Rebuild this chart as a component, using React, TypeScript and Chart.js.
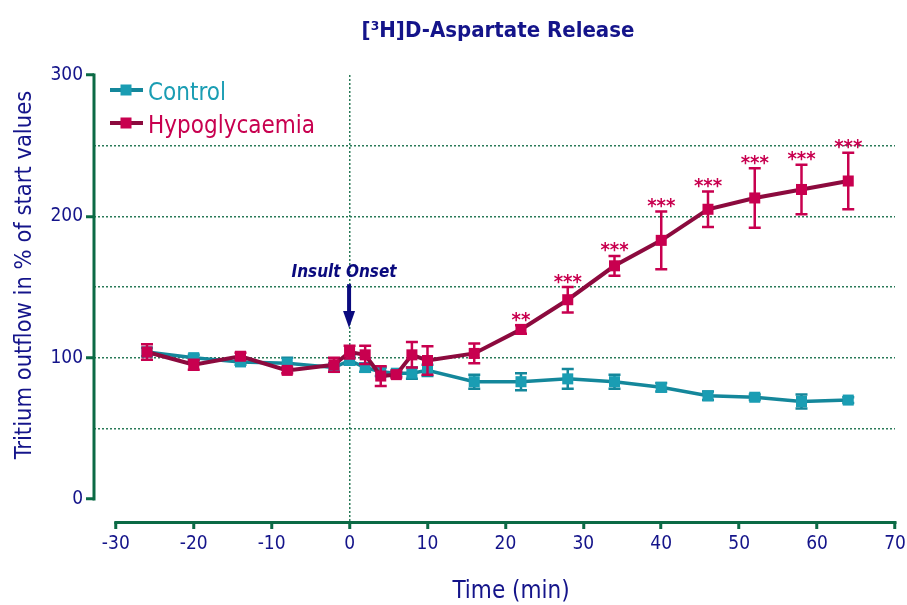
import React, { useEffect, useRef } from 'react';
import { Chart, registerables } from 'chart.js';

Chart.register(...registerables);

// ---------- data ----------
const times = [-26, -20, -14, -8, -2, 0, 2, 4, 6, 8, 10, 16, 22, 28, 34, 40, 46, 52, 58, 64];
const controlMean = [104, 100, 97, 96, 93, 98, 93, 90, 89, 89, 91, 83, 83, 85, 83, 79, 73, 72, 69, 70];
const controlSem = [3, 2, 2, 4, 3, 3, 3, 3, 2, 4, 4, 5, 6, 7, 5, 3, 3, 2, 5, 2];
const hypoMean = [104, 95, 101, 91, 95, 104, 102, 87, 88, 102, 98, 103, 120, 141, 165, 183, 205, 213, 219, 225];
const hypoSem = [5.5, 3.5, 2.5, 2, 5, 4.5, 6.5, 7, 2, 9, 10, 7, 3, 9, 7, 20.5, 12.5, 21, 17.5, 20];
const significance = ['', '', '', '', '', '', '', '', '', '', '', '', '**', '***', '***', '***', '***', '***', '***', '***'];
const seriesNames = ['Control', 'Hypoglycaemia'];
const yTickLabels = [0, 100, 200, 300];
const xRange = [-30, 70];
const titleText = '[³H]D-Aspartate Release';
const xTitleText = 'Time (min)';
const yTitleText = 'Tritium outflow in % of start values';
const annotationText = 'Insult Onset';
const insultTime = 0;
const arrowTailValue = 152;
const arrowHeadBaseValue = 133;
const arrowTipValue = 121;
const annotationLabelValue = 157;

// ---------- styles ----------
const FONT = "'DejaVu Sans Condensed', 'DejaVu Sans', 'Liberation Sans', sans-serif";
const NAVY = '#14148a';
const ARROW = '#0a0a7e';
const AXIS = '#0b6a45';
const GRID = '#2a7a58';
const CTRL_LINE = '#14879b';
const CTRL_MARK = '#1a9db3';
const HYPO_LINE = '#8c0a3e';
const HYPO_MARK = '#c8004f';

const errorBarPlugin = {
  id: 'errorBars',
  beforeDatasetDraw(chart: any, args: any) {
    const ds: any = chart.data.datasets[args.index];
    if (!ds.errors) return;
    const xs = chart.scales.x;
    const ys = chart.scales.y;
    const ctx = chart.ctx;
    ctx.save();
    ctx.strokeStyle = ds.errorColor;
    ctx.lineWidth = 2.5;
    ctx.setLineDash([]);
    ds.data.forEach((p: any, i: number) => {
      const e = ds.errors[i];
      const px = xs.getPixelForValue(p.x);
      const top = ys.getPixelForValue(p.y + e);
      const bot = ys.getPixelForValue(p.y - e);
      const cap = 6;
      ctx.beginPath();
      ctx.moveTo(px, top);
      ctx.lineTo(px, bot);
      ctx.moveTo(px - cap, top);
      ctx.lineTo(px + cap, top);
      ctx.moveTo(px - cap, bot);
      ctx.lineTo(px + cap, bot);
      ctx.stroke();
    });
    ctx.restore();
  },
};

const decorPlugin = {
  id: 'decor',
  afterDraw(chart: any) {
    const ctx = chart.ctx;
    const xs = chart.scales.x;
    const ys = chart.scales.y;
    const area = chart.chartArea;
    ctx.save();
    ctx.setLineDash([]);

    // axis lines (offset, Prism style)
    ctx.strokeStyle = AXIS;
    ctx.lineWidth = 3;
    ctx.lineCap = 'butt';
    ctx.beginPath();
    ctx.moveTo(xs.getPixelForValue(xRange[0]) - 1.5, area.bottom + 0.5);
    ctx.lineTo(xs.getPixelForValue(xRange[1]) + 1.5, area.bottom + 0.5);
    ctx.stroke();
    ctx.beginPath();
    ctx.moveTo(area.left, ys.getPixelForValue(yTickLabels[yTickLabels.length - 1]) - 1.5);
    ctx.lineTo(area.left, ys.getPixelForValue(yTickLabels[0]) + 1.5);
    ctx.stroke();

    // significance stars
    ctx.fillStyle = HYPO_MARK;
    ctx.font = `bold 20px ${FONT}`;
    ctx.textAlign = 'center';
    ctx.textBaseline = 'alphabetic';
    significance.forEach((s, i) => {
      if (!s) return;
      const px = xs.getPixelForValue(times[i]);
      const top = ys.getPixelForValue(hypoMean[i] + hypoSem[i]);
      ctx.fillText(s, px, top + 0.5);
    });

    // Insult onset annotation
    const ax = xs.getPixelForValue(insultTime) - 0.5;
    ctx.fillStyle = ARROW;
    ctx.strokeStyle = ARROW;
    ctx.font = `italic bold 17px ${FONT}`;
    ctx.textAlign = 'center';
    ctx.fillText(annotationText, ax - 5, ys.getPixelForValue(annotationLabelValue));
    ctx.lineWidth = 4;
    ctx.beginPath();
    ctx.moveTo(ax, ys.getPixelForValue(arrowTailValue));
    ctx.lineTo(ax, ys.getPixelForValue(arrowHeadBaseValue) + 1);
    ctx.stroke();
    ctx.beginPath();
    const hb = ys.getPixelForValue(arrowHeadBaseValue);
    ctx.moveTo(ax - 6, hb);
    ctx.lineTo(ax + 6, hb);
    ctx.lineTo(ax, ys.getPixelForValue(arrowTipValue));
    ctx.closePath();
    ctx.fill();

    // legend
    const legend = [
      { name: seriesNames[0], line: CTRL_LINE, mark: CTRL_MARK, y: 90, base: 100 },
      { name: seriesNames[1], line: HYPO_LINE, mark: HYPO_MARK, y: 123, base: 132.5 },
    ];
    legend.forEach((l) => {
      ctx.strokeStyle = l.line;
      ctx.lineWidth = 4;
      ctx.beginPath();
      ctx.moveTo(110, l.y);
      ctx.lineTo(143, l.y);
      ctx.stroke();
      ctx.fillStyle = l.mark;
      ctx.fillRect(126 - 5.5, l.y - 5.5, 11, 11);
      ctx.font = `24px ${FONT}`;
      ctx.textAlign = 'left';
      ctx.textBaseline = 'alphabetic';
      ctx.fillText(l.name, 148, l.base);
    });

    // titles
    ctx.fillStyle = NAVY;
    ctx.font = `bold 22px ${FONT}`;
    ctx.textAlign = 'center';
    ctx.textBaseline = 'middle';
    ctx.fillText(titleText, 498, 31);

    ctx.font = `24px ${FONT}`;
    ctx.fillText(xTitleText, 511, 592);

    ctx.save();
    ctx.translate(25, 275);
    ctx.rotate(-Math.PI / 2);
    ctx.font = `23.5px ${FONT}`;
    ctx.fillText(yTitleText, 0, 0);
    ctx.restore();

    ctx.restore();
  },
};

export default function App() {
  const ref = useRef<HTMLCanvasElement | null>(null);

  useEffect(() => {
    if (!ref.current) return;
    const chart = new Chart(ref.current, {
      type: 'line',
      data: {
        datasets: [
          {
            label: seriesNames[1],
            data: times.map((t, i) => ({ x: t, y: hypoMean[i] })),
            borderColor: HYPO_LINE,
            backgroundColor: HYPO_MARK,
            pointBackgroundColor: HYPO_MARK,
            pointBorderColor: HYPO_MARK,
            pointBorderWidth: 0,
            pointStyle: 'rect',
            pointRadius: 7.8,
            borderWidth: 4,
            tension: 0,
            order: 0,
            errors: hypoSem,
            errorColor: HYPO_MARK,
          } as any,
          {
            label: seriesNames[0],
            data: times.map((t, i) => ({ x: t, y: controlMean[i] })),
            borderColor: CTRL_LINE,
            backgroundColor: CTRL_MARK,
            pointBackgroundColor: CTRL_MARK,
            pointBorderColor: CTRL_MARK,
            pointBorderWidth: 0,
            pointStyle: 'rect',
            pointRadius: 7.8,
            borderWidth: 3.5,
            tension: 0,
            order: 1,
            errors: controlSem,
            errorColor: CTRL_LINE,
          } as any,
        ],
      },
      options: {
        animation: false,
        responsive: true,
        maintainAspectRatio: false,
        layout: { padding: { top: 75, right: 12, bottom: 0, left: 0 } },
        plugins: {
          legend: { display: false },
          title: { display: false },
          tooltip: { enabled: false },
        },
        scales: {
          x: {
            type: 'linear',
            min: -32.8,
            max: xRange[1],
            afterFit: (s: any) => {
              s.height = 83;
            },
            ticks: {
              stepSize: 10,
              includeBounds: false,
              autoSkip: false,
              maxRotation: 0,
              color: NAVY,
              padding: 1,
              font: { family: FONT, size: 19, lineHeight: 1.52 },
            },
            grid: {
              color: (c: any) => (c.tick && c.tick.value === insultTime ? GRID : 'transparent'),
              lineWidth: 1.5,
              tickColor: AXIS,
              tickWidth: 3,
              tickLength: 7,
              tickBorderDash: [],
            },
            border: { display: false, dash: [2, 2] },
          },
          y: {
            type: 'linear',
            min: -16.27,
            max: yTickLabels[yTickLabels.length - 1],
            afterFit: (s: any) => {
              s.width = 94;
            },
            ticks: {
              stepSize: 50,
              includeBounds: false,
              autoSkip: false,
              color: NAVY,
              padding: 3,
              font: { family: FONT, size: 19 },
              callback: (v: any) => (yTickLabels.includes(Number(v)) ? String(v) : ''),
            },
            grid: {
              color: (c: any) =>
                c.tick && c.tick.value > 0 && c.tick.value < 300 ? GRID : 'transparent',
              lineWidth: 1.5,
              tickColor: (c: any) =>
                c.tick && yTickLabels.includes(c.tick.value) ? AXIS : 'transparent',
              tickWidth: 3,
              tickLength: 8,
              tickBorderDash: [],
            },
            border: { display: false, dash: [2, 2] },
          },
        },
      } as any,
      plugins: [errorBarPlugin, decorPlugin],
    });
    return () => chart.destroy();
  }, []);

  return (
    <div style={{ position: 'fixed', left: 0, top: 0, width: 907, height: 605, background: '#fff' }}>
      <canvas ref={ref} />
    </div>
  );
}
